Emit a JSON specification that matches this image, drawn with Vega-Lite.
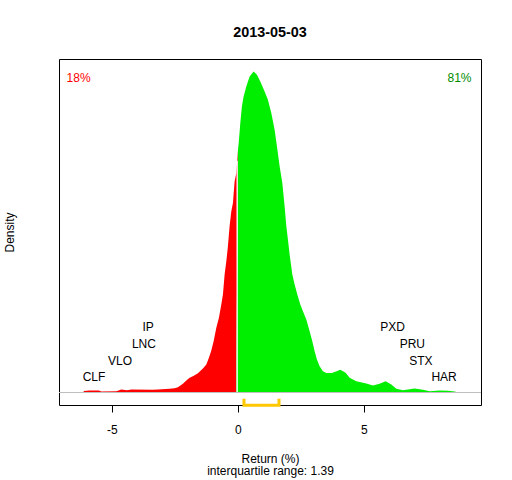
{
  "$schema": "https://vega.github.io/schema/vega-lite/v6.json",
  "width": 422,
  "height": 346,
  "autosize": {"type": "none"},
  "padding": {"left": 59, "top": 59, "right": 31, "bottom": 75},
  "background": "white",
  "config": {
    "font": "Liberation Sans",
    "view": {"stroke": "black", "strokeWidth": 1},
    "axis": {"grid": false}
  },
  "title": {
    "text": "2013-05-03",
    "fontSize": 14.4,
    "fontWeight": "bold",
    "font": "Liberation Sans",
    "color": "black",
    "anchor": "middle",
    "baseline": "alphabetic",
    "offset": 8
  },
  "datasets": {
    "curve": [
      {"x": -6.12, "density": 0.0015, "side": "neg"},
      {"x": -5.885, "density": 0.002, "side": "neg"},
      {"x": -5.516, "density": 0.002, "side": "neg"},
      {"x": -5.421, "density": 0.001, "side": "neg"},
      {"x": -4.825, "density": 0.0013, "side": "neg"},
      {"x": -4.627, "density": 0.003, "side": "neg"},
      {"x": -4.405, "density": 0.0023, "side": "neg"},
      {"x": -4.23, "density": 0.003, "side": "neg"},
      {"x": -3.373, "density": 0.0027, "side": "neg"},
      {"x": -3.175, "density": 0.003, "side": "neg"},
      {"x": -2.71, "density": 0.0037, "side": "neg"},
      {"x": -2.512, "density": 0.0043, "side": "neg"},
      {"x": -2.381, "density": 0.0053, "side": "neg"},
      {"x": -2.183, "density": 0.0087, "side": "neg"},
      {"x": -2.048, "density": 0.012, "side": "neg"},
      {"x": -1.917, "density": 0.0147, "side": "neg"},
      {"x": -1.786, "density": 0.0163, "side": "neg"},
      {"x": -1.587, "density": 0.0193, "side": "neg"},
      {"x": -1.389, "density": 0.024, "side": "neg"},
      {"x": -1.254, "density": 0.028, "side": "neg"},
      {"x": -1.151, "density": 0.0347, "side": "neg"},
      {"x": -1.056, "density": 0.042, "side": "neg"},
      {"x": -0.964, "density": 0.0513, "side": "neg"},
      {"x": -0.857, "density": 0.0647, "side": "neg"},
      {"x": -0.754, "density": 0.0747, "side": "neg"},
      {"x": -0.659, "density": 0.088, "side": "neg"},
      {"x": -0.595, "density": 0.098, "side": "neg"},
      {"x": -0.528, "density": 0.118, "side": "neg"},
      {"x": -0.46, "density": 0.1313, "side": "neg"},
      {"x": -0.397, "density": 0.1463, "side": "neg"},
      {"x": -0.329, "density": 0.1668, "side": "neg"},
      {"x": -0.262, "density": 0.1813, "side": "neg"},
      {"x": -0.198, "density": 0.1897, "side": "neg"},
      {"x": -0.131, "density": 0.2113, "side": "neg"},
      {"x": -0.063, "density": 0.2197, "side": "neg"},
      {"x": 0.0, "density": 0.2423, "side": "pos"},
      {"x": 0.028, "density": 0.249, "side": "pos"},
      {"x": 0.095, "density": 0.2697, "side": "pos"},
      {"x": 0.159, "density": 0.2863, "side": "pos"},
      {"x": 0.226, "density": 0.2963, "side": "pos"},
      {"x": 0.333, "density": 0.3063, "side": "pos"},
      {"x": 0.464, "density": 0.3163, "side": "pos"},
      {"x": 0.623, "density": 0.3213, "side": "pos"},
      {"x": 0.754, "density": 0.318, "side": "pos"},
      {"x": 0.889, "density": 0.3113, "side": "pos"},
      {"x": 1.06, "density": 0.3013, "side": "pos"},
      {"x": 1.19, "density": 0.293, "side": "pos"},
      {"x": 1.325, "density": 0.2797, "side": "pos"},
      {"x": 1.456, "density": 0.263, "side": "pos"},
      {"x": 1.548, "density": 0.2463, "side": "pos"},
      {"x": 1.655, "density": 0.2263, "side": "pos"},
      {"x": 1.762, "density": 0.2097, "side": "pos"},
      {"x": 1.853, "density": 0.1863, "side": "pos"},
      {"x": 1.921, "density": 0.1663, "side": "pos"},
      {"x": 1.984, "density": 0.153, "side": "pos"},
      {"x": 2.052, "density": 0.138, "side": "pos"},
      {"x": 2.159, "density": 0.118, "side": "pos"},
      {"x": 2.25, "density": 0.108, "side": "pos"},
      {"x": 2.357, "density": 0.098, "side": "pos"},
      {"x": 2.476, "density": 0.088, "side": "pos"},
      {"x": 2.579, "density": 0.0813, "side": "pos"},
      {"x": 2.714, "density": 0.073, "side": "pos"},
      {"x": 2.845, "density": 0.0613, "side": "pos"},
      {"x": 2.952, "density": 0.0513, "side": "pos"},
      {"x": 3.044, "density": 0.0413, "side": "pos"},
      {"x": 3.135, "density": 0.033, "side": "pos"},
      {"x": 3.242, "density": 0.0263, "side": "pos"},
      {"x": 3.373, "density": 0.0213, "side": "pos"},
      {"x": 3.508, "density": 0.0195, "side": "pos"},
      {"x": 3.73, "density": 0.0195, "side": "pos"},
      {"x": 3.837, "density": 0.0205, "side": "pos"},
      {"x": 4.063, "density": 0.0227, "side": "pos"},
      {"x": 4.274, "density": 0.0197, "side": "pos"},
      {"x": 4.433, "density": 0.0147, "side": "pos"},
      {"x": 4.698, "density": 0.0113, "side": "pos"},
      {"x": 5.095, "density": 0.009, "side": "pos"},
      {"x": 5.357, "density": 0.007, "side": "pos"},
      {"x": 5.623, "density": 0.0087, "side": "pos"},
      {"x": 5.861, "density": 0.0113, "side": "pos"},
      {"x": 6.087, "density": 0.008, "side": "pos"},
      {"x": 6.286, "density": 0.0037, "side": "pos"},
      {"x": 6.548, "density": 0.0023, "side": "pos"},
      {"x": 7.012, "density": 0.004, "side": "pos"},
      {"x": 7.341, "density": 0.0027, "side": "pos"},
      {"x": 7.607, "density": 0.0013, "side": "pos"},
      {"x": 8.004, "density": 0.002, "side": "pos"},
      {"x": 8.333, "density": 0.0017, "side": "pos"},
      {"x": 8.599, "density": 0.001, "side": "pos"},
      {"x": 8.639, "density": 0.0008, "side": "pos"}
    ],
    "labels": [
      {"ticker": "CLF", "x": -5.71, "y": 0.0157},
      {"ticker": "VLO", "x": -4.68, "y": 0.0313},
      {"ticker": "LNC", "x": -3.73, "y": 0.0487},
      {"ticker": "IP", "x": -3.56, "y": 0.066},
      {"ticker": "PXD", "x": 6.14, "y": 0.066},
      {"ticker": "PRU", "x": 6.92, "y": 0.0487},
      {"ticker": "STX", "x": 7.26, "y": 0.0313},
      {"ticker": "HAR", "x": 8.18, "y": 0.0157}
    ],
    "pctneg": [{"text": "18%", "x": -6.8, "y": 0.315}],
    "pctpos": [{"text": "81%", "x": 9.27, "y": 0.315}],
    "iqr": [
      {"x": 0.24, "y": -0.0063, "o": 1},
      {"x": 0.24, "y": -0.0127, "o": 2},
      {"x": 1.63, "y": -0.0127, "o": 3},
      {"x": 1.63, "y": -0.0063, "o": 4}
    ],
    "zero": [{"y": 0}],
    "split": [{"x": -0.03, "y": 0, "y2": 0.232}]
  },
  "layer": [
    {
      "data": {"name": "curve"},
      "mark": {"type": "area", "interpolate": "linear", "clip": true},
      "encoding": {
        "x": {
          "field": "x",
          "type": "quantitative",
          "scale": {"domain": [-7.1, 9.646], "nice": false, "zero": false},
          "axis": {
            "values": [-5, 0, 5],
            "domain": false,
            "ticks": true,
            "tickColor": "black",
            "tickSize": 7,
            "tickWidth": 1,
            "labelFontSize": 12,
            "labelColor": "black",
            "labelFont": "Liberation Sans",
            "labelPadding": 12,
            "labelExpr": "datum.value < 0 ? '-' + abs(datum.value) : '' + datum.value",
            "title": ["Return (%)", "interquartile range: 1.39"],
            "titleFont": "Liberation Sans",
            "titleFontSize": 12,
            "titleFontWeight": "normal",
            "titleColor": "black",
            "titleLineHeight": 12.7,
            "titlePadding": 18
          }
        },
        "y": {
          "field": "density",
          "type": "quantitative",
          "scale": {"domain": [-0.0125, 0.3337], "nice": false, "zero": false},
          "axis": {
            "title": "Density",
            "domain": false,
            "ticks": false,
            "labels": false,
            "titleFont": "Liberation Sans",
            "titleFontSize": 12,
            "titleFontWeight": "normal",
            "titleColor": "black",
            "titlePadding": 43
          }
        },
        "color": {
          "field": "side",
          "type": "nominal",
          "scale": {"domain": ["neg", "pos"], "range": ["#FF0000", "#00EE00"]},
          "legend": null
        }
      }
    },
    {
      "data": {"name": "split"},
      "mark": {"type": "rule", "color": "white", "strokeWidth": 1.3},
      "encoding": {
        "x": {"field": "x", "type": "quantitative"},
        "y": {"field": "y", "type": "quantitative"},
        "y2": {"field": "y2"}
      }
    },
    {
      "data": {"name": "zero"},
      "mark": {"type": "rule", "color": "#BEBEBE", "strokeWidth": 1},
      "encoding": {"y": {"field": "y", "type": "quantitative"}}
    },
    {
      "data": {"name": "labels"},
      "mark": {"type": "text", "fontSize": 12, "font": "Liberation Sans", "color": "black", "align": "center", "baseline": "middle"},
      "encoding": {
        "x": {"field": "x", "type": "quantitative"},
        "y": {"field": "y", "type": "quantitative"},
        "text": {"field": "ticker"}
      }
    },
    {
      "data": {"name": "pctneg"},
      "mark": {"type": "text", "fontSize": 12, "font": "Liberation Sans", "baseline": "middle", "align": "left", "color": "#FF0000"},
      "encoding": {
        "x": {"field": "x", "type": "quantitative"},
        "y": {"field": "y", "type": "quantitative"},
        "text": {"field": "text"}
      }
    },
    {
      "data": {"name": "pctpos"},
      "mark": {"type": "text", "fontSize": 12, "font": "Liberation Sans", "baseline": "middle", "align": "right", "color": "#008B00"},
      "encoding": {
        "x": {"field": "x", "type": "quantitative"},
        "y": {"field": "y", "type": "quantitative"},
        "text": {"field": "text"}
      }
    },
    {
      "data": {"name": "iqr"},
      "mark": {"type": "line", "color": "#FFC800", "strokeWidth": 3, "strokeCap": "butt", "strokeJoin": "miter", "clip": false},
      "encoding": {
        "x": {"field": "x", "type": "quantitative"},
        "y": {"field": "y", "type": "quantitative"},
        "order": {"field": "o", "type": "quantitative"}
      }
    }
  ]
}
